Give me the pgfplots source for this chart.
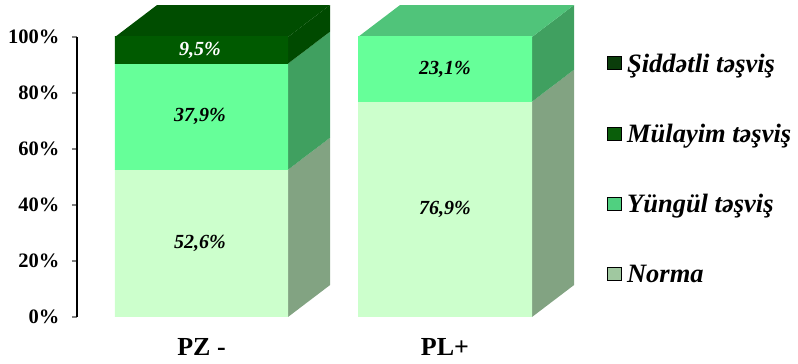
\documentclass[border=0pt]{standalone}
\usepackage{pgfplots}
\pgfplotsset{compat=1.18}
\usepackage{fontspec}
\setmainfont{Liberation Serif}

% front / side / top shades of each category
\definecolor{normaF}{HTML}{CCFFCC}
\definecolor{normaS}{HTML}{82A382}
\definecolor{yungF}{HTML}{66FF99}
\definecolor{yungS}{HTML}{40A060}
\definecolor{yungT}{HTML}{50C47A}
\definecolor{sidF}{HTML}{005A00}
\definecolor{sidS}{HTML}{004A00}
\definecolor{sidT}{HTML}{004D00}
\definecolor{legSid}{HTML}{0B3D0B}
\definecolor{legMul}{HTML}{0A5E0A}
\definecolor{legYung}{HTML}{50D080}
\definecolor{legNorma}{HTML}{A0C8A0}

% front faces: darker left rim, light band just before the right edge
\colorlet{normaE}{normaF!85!black}
\colorlet{normaH}{normaF!45!white}
\colorlet{yungE}{yungF!85!black}
\colorlet{yungH}{yungF!70!white}
\colorlet{sidE}{sidF!80!black}
\colorlet{sidH}{sidF!80!white}
\pgfdeclarehorizontalshading{frontNorma}{100bp}{color(0bp)=(normaE); color(3bp)=(normaF); color(90bp)=(normaF); color(95bp)=(normaH); color(98bp)=(normaF); color(100bp)=(normaE)}
\pgfdeclarehorizontalshading{frontYung}{100bp}{color(0bp)=(yungE); color(3bp)=(yungF); color(90bp)=(yungF); color(95bp)=(yungH); color(98bp)=(yungF); color(100bp)=(yungE)}
\pgfdeclarehorizontalshading{frontSid}{100bp}{color(0bp)=(sidE); color(3bp)=(sidF); color(90bp)=(sidF); color(95bp)=(sidH); color(98bp)=(sidF); color(100bp)=(sidE)}

\newcommand{\vallabel}{\bfseries\itshape\fontsize{20}{20}\selectfont}

\begin{document}
\begin{tikzpicture}
\begin{axis}[
  scale only axis, width=721pt, height=280pt,
  xmin=77, xmax=798, ymin=0, ymax=100,
  clip=false,
  axis y line*=left, axis x line*=bottom,
  x axis line style={draw=none},
  y axis line style={line width=1.4pt},
  ytick={0,20,40,60,80,100},
  yticklabel={\pgfmathprintnumber{\tick}\%},
  /pgf/number format/assume math mode=true,
  yticklabel style={font=\bfseries\fontsize{20.5}{20.5}\selectfont, xshift=-9pt},
  xtick={201.5,445}, xticklabels={PZ -, PL+},
  xticklabel style={font=\bfseries\fontsize{26}{26}\selectfont, yshift=-13pt},
  major x tick style={draw=none},
  major y tick style={line width=1.4pt},
  tick align=outside, major tick length=5pt,
  legend style={at={(axis cs:607,94.8)}, anchor=north west, draw=none, fill=none,
    font=\bfseries\itshape\fontsize{26.5}{26.5}\selectfont, row sep=46.5pt,
    inner sep=0pt, nodes={inner xsep=5.5pt}},
  legend cell align=left,
  legend image code/.code={\fill[#1] (1pt,-6pt) rectangle (15pt,7pt);},
]
% ---- PZ - : Norma 52.6, Yungul 37.9, Mulayim 0, Siddetli 9.5
% side faces
\addplot[forget plot, fill=normaS, draw=none] coordinates {(288,0)(330,11.4)(330,64.0)(288,52.6)} -- cycle;
\addplot[forget plot, fill=yungS, draw=none] coordinates {(288,52.6)(330,64.0)(330,101.9)(288,90.5)} -- cycle;
\addplot[forget plot, fill=sidS, draw=none] coordinates {(288,90.5)(330,101.9)(330,111.4)(288,100)} -- cycle;
% top face
\addplot[forget plot, fill=sidT, draw=none] coordinates {(115,100)(288,100)(330,111.4)(157,111.4)} -- cycle;
% front faces
\addplot[forget plot, shading=frontNorma, draw=none] coordinates {(115,0)(288,0)(288,52.6)(115,52.6)} -- cycle;
\addplot[forget plot, shading=frontYung, draw=none] coordinates {(115,52.6)(288,52.6)(288,90.5)(115,90.5)} -- cycle;
\addplot[forget plot, shading=frontSid, draw=none] coordinates {(115,90.5)(288,90.5)(288,100)(115,100)} -- cycle;

% ---- PL+ : Norma 76.9, Yungul 23.1
\addplot[forget plot, fill=normaS, draw=none] coordinates {(532,0)(574,11.4)(574,88.3)(532,76.9)} -- cycle;
\addplot[forget plot, fill=yungS, draw=none] coordinates {(532,76.9)(574,88.3)(574,111.4)(532,100)} -- cycle;
\addplot[forget plot, fill=yungT, draw=none] coordinates {(358,100)(532,100)(574,111.4)(400,111.4)} -- cycle;
\addplot[forget plot, shading=frontNorma, draw=none] coordinates {(358,0)(532,0)(532,76.9)(358,76.9)} -- cycle;
\addplot[forget plot, shading=frontYung, draw=none] coordinates {(358,76.9)(532,76.9)(532,100)(358,100)} -- cycle;

% value labels, centred on each front segment
\node[font=\vallabel] at (axis cs:200,26.3) {52,6\%};
\node[font=\vallabel] at (axis cs:200,71.55) {37,9\%};
\node[font=\vallabel, text=white] at (axis cs:200,95.25) {9,5\%};
\node[font=\vallabel] at (axis cs:445,38.45) {76,9\%};
\node[font=\vallabel] at (axis cs:445,88.45) {23,1\%};

% legend
\addlegendimage{fill=legSid}
\addlegendentry{Şiddətli təşviş}
\addlegendimage{fill=legMul}
\addlegendentry{Mülayim təşviş}
\addlegendimage{fill=legYung}
\addlegendentry{Yüngül təşviş}
\addlegendimage{fill=legNorma}
\addlegendentry{Norma}

\coordinate (bbsw) at (axis cs:0,-16.79);
\coordinate (bbne) at (axis cs:798,113.21);
\end{axis}
\pgfresetboundingbox
\path[use as bounding box] (bbsw) rectangle (bbne);
\end{tikzpicture}
\end{document}
